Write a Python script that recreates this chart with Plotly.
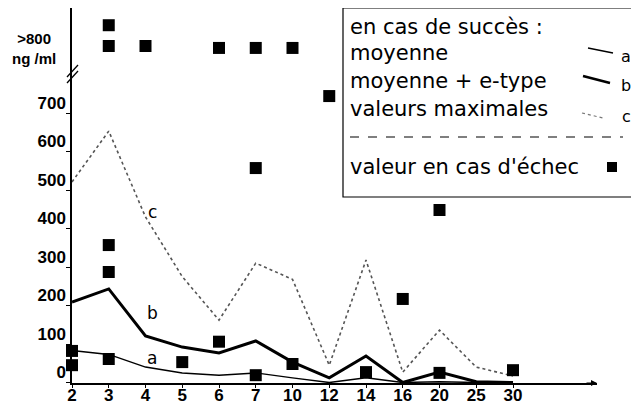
import plotly.graph_objects as go

categories = ["2", "3", "4", "5", "6", "7", "10", "12", "14", "16", "20", "25", "30"]
moyenne = [83, 73, 40, 25, 19, 25, 12, 0, 12, 0, 2, 0, 0]
moyenne_plus_et = [209, 243, 121, 92, 77, 108, 53, 12, 69, 0, 27, 2, 0]
valeurs_max = [521, 653, 430, 275, 162, 310, 268, 45, 318, 27, 136, 40, 17]

echec_cat = ["2", "2", "3", "3", "3", "3", "3", "4", "5", "6", "6", "7", "7", "7",
             "10", "10", "12", "14", "16", "20", "20", "30"]
echec_val = [82, 45, 928, 874, 357, 287, 61, 874, 53, 869, 106, 869, 557, 19,
             869, 48, 744, 27, 217, 448, 25, 32]

y_ticks = [0, 100, 200, 300, 400, 500, 600, 700]

idx = {c: i for i, c in enumerate(categories)}
xs = list(range(len(categories)))
ex = [idx[c] for c in echec_cat]

fig = go.Figure()
fig.add_trace(go.Scatter(x=xs, y=valeurs_max, mode="lines",
                         line=dict(color="#555555", width=1.6, dash="dot"), cliponaxis=False))
fig.add_trace(go.Scatter(x=xs, y=moyenne_plus_et, mode="lines",
                         line=dict(color="black", width=3), cliponaxis=False))
fig.add_trace(go.Scatter(x=xs, y=moyenne, mode="lines",
                         line=dict(color="black", width=1.5), cliponaxis=False))
fig.add_trace(go.Scatter(x=ex, y=echec_val, mode="markers",
                         marker=dict(symbol="square", size=12, color="black"), cliponaxis=False))

# page has an 8px body margin: figure drawn at (8, 8)
OFF = 8
W, H = 639 - OFF, 408 - OFF
X0, X1 = 72, 597      # plot area left/right in page pixels
Y0, Y1 = 8, 383       # plot area top/bottom in page pixels
L, T = X0 - OFF, Y0 - OFF
R, B = (W + OFF) - X1, (H + OFF) - Y1
pw, ph = X1 - X0, Y1 - Y0


def px(x):
    return (x - X0) / pw


def py(y):
    return (Y1 - y) / ph


shapes = []
annotations = []
legfont = dict(family="DejaVu Sans", size=21, color="black")

# legend box
shapes.append(dict(type="rect", xref="paper", yref="paper", x0=px(343), x1=px(650),
                   y0=py(197), y1=py(8), line=dict(color="black", width=1.2)))
for txt, yy in [("en cas de succès :", 27), ("moyenne", 53), ("moyenne + e-type", 81),
                ("valeurs maximales", 109), ("valeur en cas d'échec", 167)]:
    annotations.append(dict(text=txt, xref="paper", yref="paper", x=px(348), y=py(yy),
                            xanchor="left", yanchor="middle", showarrow=False, font=legfont))
shapes.append(dict(type="line", xref="paper", yref="paper", x0=px(350), x1=px(623),
                   y0=py(137), y1=py(137), line=dict(color="black", width=1.2, dash="dash")))
shapes.append(dict(type="line", xref="paper", yref="paper", x0=px(588), x1=px(613),
                   y0=py(48), y1=py(53), line=dict(color="black", width=1.3)))
shapes.append(dict(type="line", xref="paper", yref="paper", x0=px(583), x1=px(610),
                   y0=py(76), y1=py(83), line=dict(color="black", width=2.6)))
shapes.append(dict(type="line", xref="paper", yref="paper", x0=px(582), x1=px(603),
                   y0=py(113), y1=py(118), line=dict(color="#777777", width=1.2, dash="dot")))
shapes.append(dict(type="rect", xref="paper", yref="paper", x0=px(607), x1=px(617),
                   y0=py(172), y1=py(162), fillcolor="black", line=dict(width=0)))
for t, yy in [("a", 56), ("b", 86), ("c", 117)]:
    annotations.append(dict(text=t, xref="paper", yref="paper", x=px(626), y=py(yy),
                            xanchor="center", yanchor="middle", showarrow=False,
                            font=dict(family="DejaVu Sans", size=16, color="black")))

# curve labels
for t, yv in [("c", 443), ("b", 180), ("a", 64)]:
    annotations.append(dict(text=t, x=2.18, y=yv, xref="x", yref="y", showarrow=False,
                            font=dict(family="DejaVu Sans", size=17, color="black")))

# >800 label
annotations.append(dict(text=">800<br>ng /ml", xref="paper", yref="paper", x=px(34), y=py(49),
                        xanchor="center", yanchor="middle", showarrow=False,
                        font=dict(family="Liberation Sans", size=15, color="black", weight="bold")))

# axis break
shapes.append(dict(type="line", xref="paper", yref="paper", x0=px(67), x1=px(78),
                   y0=py(77), y1=py(65), line=dict(color="black", width=1.3)))
shapes.append(dict(type="line", xref="paper", yref="paper", x0=px(67), x1=px(78),
                   y0=py(83), y1=py(71), line=dict(color="black", width=1.3)))

# arrow at end of x-axis
annotations.append(dict(text="", xref="paper", yref="paper", x=px(597), y=0, ax=-12, ay=0,
                        showarrow=True, arrowhead=2, arrowsize=1, arrowwidth=1.2, arrowcolor="black"))

per100 = 38.5  # pixels per 100 ng/ml
y_lo = -(Y1 - 382.5) / per100 * 100
y_hi = (382.5 - Y0) / per100 * 100

tickfont = dict(family="Liberation Sans", size=17, color="black", weight="bold")
fig.update_layout(
    width=W, height=H, margin=dict(l=L, r=R, t=T, b=B, autoexpand=False),
    paper_bgcolor="white", plot_bgcolor="white", showlegend=False,
    shapes=shapes, annotations=annotations,
    xaxis=dict(range=[0, pw / 36.75], tickvals=xs, ticktext=categories, showgrid=False,
               zeroline=False, showline=True, linecolor="black", linewidth=1.5,
               ticks="outside", ticklen=3, tickcolor="black", automargin=False,
               ticklabelstandoff=-7, tickfont=tickfont),
    yaxis=dict(range=[y_lo, y_hi], tickvals=y_ticks, ticktext=[str(v) for v in y_ticks],
               showgrid=False, zeroline=False, showline=True, linecolor="black", linewidth=1.5,
               ticks="outside", ticklen=4, tickcolor="black", ticklabelshift=-10,
               ticklabelstandoff=-3, automargin=False, tickfont=tickfont),
)

fig.write_html("out.html")
